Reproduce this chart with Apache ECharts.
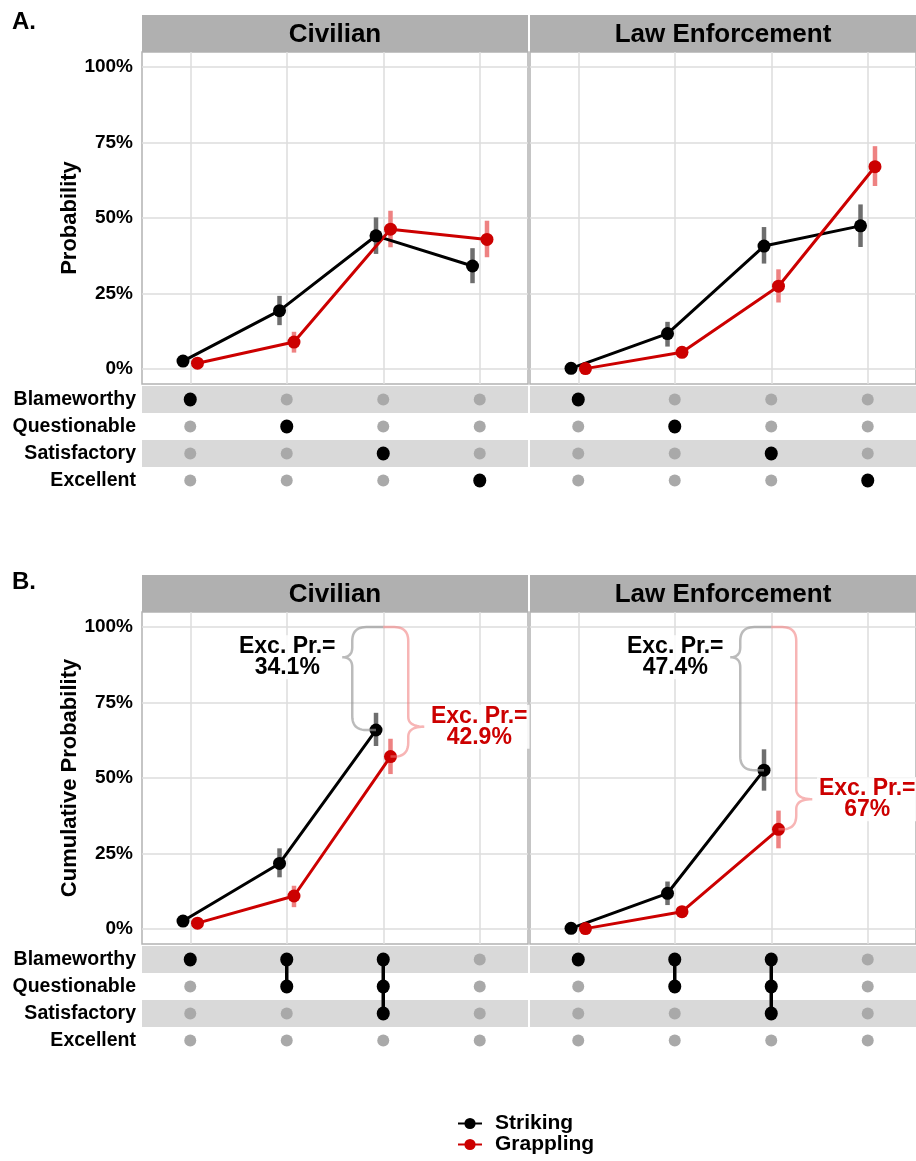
<!DOCTYPE html>
<html lang="en">
<head>
<meta charset="UTF-8">
<title>Ratings by force type</title>
<script src="https://cdn.jsdelivr.net/npm/echarts@6/dist/echarts.min.js"></script>
<style>html,body{margin:0;padding:0;background:#fff}</style>
</head>
<body>
<div id="chart" style="width:916px;height:1161px;"></div>
<script>
// facets and rating rows
const panels = ['Civilian', 'Law Enforcement'];
const ratings = ['Blameworthy', 'Questionable', 'Satisfactory', 'Excellent'];
const yTicks = [0, 0.25, 0.5, 0.75, 1];
const xCats = [1, 2, 3, 4];

// A. probability of each rating, [civilian, law enforcement]
const probStriking = [[0.026, 0.193, 0.441, 0.341], [0.002, 0.117, 0.407, 0.474]];
const probStrikingLo = [[0.015, 0.145, 0.381, 0.284], [0.0, 0.074, 0.349, 0.404]];
const probStrikingHi = [[0.040, 0.242, 0.502, 0.400], [0.008, 0.156, 0.470, 0.545]];
const probGrappling = [[0.019, 0.089, 0.463, 0.429], [0.001, 0.055, 0.274, 0.670]];
const probGrapplingLo = [[0.010, 0.054, 0.403, 0.370], [0.0, 0.045, 0.220, 0.606]];
const probGrapplingHi = [[0.030, 0.123, 0.524, 0.491], [0.005, 0.068, 0.330, 0.738]];

// B. cumulative probability (Excellent is left out, always 100%)
const cumStriking = [[0.026, 0.217, 0.659], [0.002, 0.118, 0.526]];
const cumStrikingLo = [[0.015, 0.171, 0.606], [0.0, 0.079, 0.458]];
const cumStrikingHi = [[0.040, 0.267, 0.716], [0.008, 0.157, 0.595]];
const cumGrappling = [[0.019, 0.109, 0.571], [0.001, 0.057, 0.330]];
const cumGrapplingLo = [[0.010, 0.072, 0.513], [0.0, 0.045, 0.267]];
const cumGrapplingHi = [[0.030, 0.143, 0.630], [0.005, 0.070, 0.392]];

// exceedance probability annotations
const excStriking = ['34.1%', '47.4%'];
const excGrappling = ['42.9%', '67%'];
const braceTipStriking = [0.90, 0.90];
const braceTipGrappling = [0.67, 0.43];

// ratings that make up each column of the matrix
const setsA = [[0], [1], [2], [3]];
const setsB = [[0], [0, 1], [0, 1, 2], []];

// layout
const FONT = '"Liberation Sans", Arial, Helvetica, sans-serif';
const DODGE = 0.075;
const colX = [142, 530], colW = 386;
const plotTop = [52, 612], plotH = 332;
const matTop = [386, 946], matH = 108;
const stripTop = [15, 575], stripH = 37;
const BLACK = '#000000', RED = '#cc0000';
const ERR_BLACK = '#6e6e6e', ERR_RED = '#ee8282';

const grids = [], xAxes = [], yAxes = [], series = [], graphics = [];

function errBars(gi, xs, lo, hi, color) {
  series.push({
    type: 'custom', xAxisIndex: gi, yAxisIndex: gi, z: 2,
    data: xs.map((x, i) => [x, lo[i], hi[i]]),
    encode: { x: 0, y: [1, 2] },
    renderItem: (params, api) => {
      const a = api.coord([api.value(0), api.value(1)]);
      const b = api.coord([api.value(0), api.value(2)]);
      return { type: 'line', shape: { x1: a[0], y1: a[1], x2: b[0], y2: b[1] },
        style: { stroke: color, lineWidth: 4.5 } };
    }
  });
}

function lineSeries(gi, name, xs, vals, color) {
  series.push({
    type: 'line', name: name, xAxisIndex: gi, yAxisIndex: gi, z: 3,
    data: xs.map((x, i) => [x, vals[i]]),
    symbol: 'circle', symbolSize: 13,
    lineStyle: { color: color, width: 3 }, itemStyle: { color: color }
  });
}

function bracePoints(top, bot, spineX, tipX, tipY) {
  const r = 14, r2 = 10, pts = [];
  const h = top[0] > spineX ? 1 : -1;
  const quad = (a, c, b) => {
    for (let i = 0; i <= 12; i++) {
      const t = i / 12, u = 1 - t;
      pts.push([u * u * a[0] + 2 * u * t * c[0] + t * t * b[0], u * u * a[1] + 2 * u * t * c[1] + t * t * b[1]]);
    }
  };
  pts.push([top[0], top[1]]);
  quad([spineX + h * r, top[1]], [spineX, top[1]], [spineX, top[1] + r]);
  quad([spineX, tipY - r2], [spineX, tipY], [tipX, tipY]);
  quad([tipX, tipY], [spineX, tipY], [spineX, tipY + r2]);
  quad([spineX, bot[1] - r], [spineX, bot[1]], [spineX + h * r, bot[1]]);
  pts.push([bot[0], bot[1]]);
  return pts;
}

function brace(gi, side, botX, botY, tipVal, label, stroke, textColor) {
  series.push({
    type: 'custom', xAxisIndex: gi, yAxisIndex: gi, z: 5,
    data: [[3, 1, botX, botY, tipVal]],
    encode: { x: [0, 2], y: [1, 3, 4] },
    renderItem: (params, api) => {
      const top = api.coord([api.value(0), api.value(1)]);
      const bot = api.coord([api.value(2), api.value(3)]);
      const tipY = api.coord([api.value(0), api.value(4)])[1];
      const spineX = top[0] + (side < 0 ? -31 : 25);
      const tipX = spineX + (side < 0 ? -10 : 16);
      const tx = side < 0 ? tipX - 6 - 49 : tipX + 6 + 49;
      return {
        type: 'group',
        children: [
          { type: 'polyline', shape: { points: bracePoints(top, bot, spineX, tipX, tipY) },
            style: { stroke: stroke, lineWidth: 2.5, fill: null } },
          { type: 'text', x: tx, y: tipY, z2: 10,
            style: { text: 'Exc. Pr.=\n' + label, fill: textColor, fontSize: 23, fontWeight: 'bold',
              fontFamily: FONT, align: 'center', verticalAlign: 'middle', textAlign: 'center',
              textVerticalAlign: 'middle', lineHeight: 21,
              backgroundColor: 'rgba(255,255,255,0.85)', padding: [1, 2] } }
        ]
      };
    }
  });
}

[0, 1].forEach(r => {
  // panel letter
  graphics.push({ type: 'text', x: 12, y: stripTop[r] - 5,
    style: { text: r ? 'B.' : 'A.', fontSize: 24, fontWeight: 'bold', fontFamily: FONT, fill: '#000' } });

  panels.forEach((pname, p) => {
    // strip header
    graphics.push({ type: 'rect', shape: { x: colX[p], y: stripTop[r], width: colW, height: stripH },
      style: { fill: '#b0b0b0' }, silent: true });
    graphics.push({ type: 'text', x: colX[p] + colW / 2, y: stripTop[r] + stripH / 2 + 1,
      style: { text: pname, fontSize: 26, fontWeight: 'bold', fontFamily: FONT, fill: '#000',
        align: 'center', verticalAlign: 'middle', textAlign: 'center', textVerticalAlign: 'middle' } });

    // plot panel
    const gi = grids.length;
    grids.push({ left: colX[p], top: plotTop[r], width: colW, height: plotH,
      show: true, borderColor: '#b3b3b3', borderWidth: 1.5, backgroundColor: 'transparent' });
    xAxes.push({ gridIndex: gi, type: 'value', min: 0.5, max: 4.5,
      axisLine: { show: false }, axisTick: { show: false, customValues: xCats },
      axisLabel: { show: false, customValues: xCats },
      splitLine: { show: true, lineStyle: { color: '#dcdcdc', width: 1.5 } } });
    yAxes.push({ gridIndex: gi, type: 'value', min: -0.05, max: 1.05,
      name: p === 0 ? (r === 0 ? 'Probability' : 'Cumulative Probability') : '',
      nameLocation: 'middle', nameGap: 61,
      nameTextStyle: { fontSize: 22, fontWeight: 'bold', fontFamily: FONT, color: '#000' },
      axisLine: { show: false }, axisTick: { show: false, customValues: yTicks },
      axisLabel: { show: p === 0, customValues: yTicks, margin: 9,
        formatter: v => Math.round(v * 100) + '%',
        fontSize: 19, fontWeight: 'bold', fontFamily: FONT, color: '#000' },
      splitLine: { show: true, lineStyle: { color: '#dcdcdc', width: 1.5 } } });

    if (r === 0) {
      const xs = xCats.map(x => x - DODGE), xr = xCats.map(x => x + DODGE);
      errBars(gi, xs, probStrikingLo[p], probStrikingHi[p], ERR_BLACK);
      errBars(gi, xr, probGrapplingLo[p], probGrapplingHi[p], ERR_RED);
      lineSeries(gi, 'Striking', xs, probStriking[p], BLACK);
      lineSeries(gi, 'Grappling', xr, probGrappling[p], RED);
    } else {
      const cats = xCats.slice(0, 3);
      const xs = cats.map(x => x - DODGE), xr = cats.map(x => x + DODGE);
      errBars(gi, xs, cumStrikingLo[p], cumStrikingHi[p], ERR_BLACK);
      errBars(gi, xr, cumGrapplingLo[p], cumGrapplingHi[p], ERR_RED);
      lineSeries(gi, 'Striking', xs, cumStriking[p], BLACK);
      lineSeries(gi, 'Grappling', xr, cumGrappling[p], RED);
      brace(gi, -1, 3 - DODGE, cumStriking[p][2], braceTipStriking[p], excStriking[p], 'rgba(150,150,150,0.65)', BLACK);
      brace(gi, 1, 3 + DODGE, cumGrappling[p][2], braceTipGrappling[p], excGrappling[p], 'rgba(240,120,120,0.55)', RED);
    }

    // rating matrix
    const mi = grids.length;
    const sets = r === 0 ? setsA : setsB;
    grids.push({ left: colX[p], top: matTop[r], width: colW, height: matH });
    xAxes.push({ gridIndex: mi, type: 'value', min: 0.5, max: 4.5,
      axisLine: { show: false }, axisTick: { show: false }, axisLabel: { show: false },
      splitLine: { show: false } });
    yAxes.push({ gridIndex: mi, type: 'category', data: ratings, inverse: true,
      axisLine: { show: false }, axisTick: { show: false },
      axisLabel: { show: p === 0, margin: 6, fontSize: 19.5, fontWeight: 'bold', fontFamily: FONT, color: '#000' },
      splitLine: { show: false },
      splitArea: { show: true, areaStyle: { color: ['#d9d9d9', '#ffffff'] } } });

    const on = [], off = [];
    xCats.forEach((x, c) => {
      ratings.forEach((_, k) => (sets[c].indexOf(k) >= 0 ? on : off).push([x, k]));
    });
    series.push({ type: 'scatter', xAxisIndex: mi, yAxisIndex: mi, data: off,
      symbol: 'circle', symbolSize: [12, 12], itemStyle: { color: '#a9a9a9', opacity: 1 } });
    series.push({ type: 'custom', xAxisIndex: mi, yAxisIndex: mi, z: 3,
      data: xCats.map((x, c) => sets[c].length > 1 ? [x, Math.min(...sets[c]), Math.max(...sets[c])] : null)
        .filter(d => d),
      encode: { x: 0, y: [1, 2] },
      renderItem: (params, api) => {
        const a = api.coord([api.value(0), api.value(1)]);
        const b = api.coord([api.value(0), api.value(2)]);
        return { type: 'line', shape: { x1: a[0], y1: a[1], x2: b[0], y2: b[1] },
          style: { stroke: '#000', lineWidth: 3.5 } };
      } });
    series.push({ type: 'scatter', xAxisIndex: mi, yAxisIndex: mi, data: on, z: 4,
      symbol: 'circle', symbolSize: [13, 14], itemStyle: { color: '#000', opacity: 1 } });
  });
});

const chart = echarts.init(document.getElementById('chart'), null, { renderer: 'canvas' });
chart.setOption({
  animation: false,
  backgroundColor: '#fff',
  grid: grids,
  xAxis: xAxes,
  yAxis: yAxes,
  graphic: graphics,
  legend: {
    data: ['Striking', 'Grappling'], orient: 'vertical', left: 452, top: 1108,
    itemWidth: 24, itemHeight: 14, itemGap: 0, selectedMode: false,
    textStyle: { fontSize: 21, fontWeight: 'bold', fontFamily: FONT, color: '#000', padding: [0, 0, 0, 8] }
  },
  series: series
});
</script>
</body>
</html>
